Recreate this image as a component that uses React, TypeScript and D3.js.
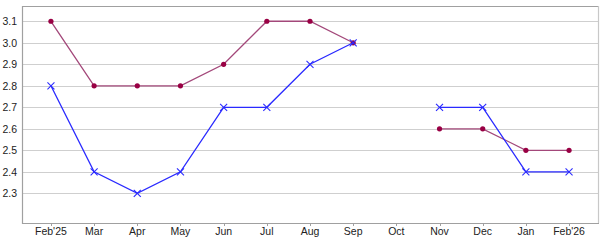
import React from "react";
import * as d3 from "d3";

const months = ["Feb'25", "Mar", "Apr", "May", "Jun", "Jul", "Aug", "Sep", "Oct", "Nov", "Dec", "Jan", "Feb'26"];
const seriesDots: (number | null)[] = [3.1, 2.8, 2.8, 2.8, 2.9, 3.1, 3.1, 3.0, null, 2.6, 2.6, 2.5, 2.5];
const seriesCross: (number | null)[] = [2.8, 2.4, 2.3, 2.4, 2.7, 2.7, 2.9, 3.0, null, 2.7, 2.7, 2.4, 2.4];
const yTicks = [2.3, 2.4, 2.5, 2.6, 2.7, 2.8, 2.9, 3.0, 3.1];

const W = 600;
const H = 243;
const left = 22;
const right = 598;
const top = 6;
const bottom = 223;

export default function App() {
  const x = d3.scalePoint<string>().domain(months).range([left, right]).padding(0.67);
  const y = d3.scaleLinear().domain([2.162, 3.171]).range([bottom, top]);

  const line = d3
    .line<number | null>()
    .defined((d) => d !== null)
    .x((_, i) => x(months[i]) as number)
    .y((d) => y(d as number));

  const font = "'Liberation Sans', Arial, sans-serif";

  return (
    <svg
      width={W}
      height={H}
      style={{ position: "absolute", left: 0, top: 0, background: "#ffffff" }}
    >
      <rect x={0} y={0} width={W} height={H} fill="#ffffff" />
      {/* grid */}
      {yTicks.map((t) => (
        <line
          key={t}
          x1={left}
          x2={right}
          y1={Math.round(y(t)) + 0.5}
          y2={Math.round(y(t)) + 0.5}
          stroke="#cfcfcf"
          strokeWidth={1.2}
        />
      ))}
      {/* frame */}
      <line x1={left} x2={right} y1={top + 0.5} y2={top + 0.5} stroke="#a0a0a0" strokeWidth={1.2} />
      <line x1={right + 0.5} x2={right + 0.5} y1={top} y2={bottom} stroke="#c8c8c8" strokeWidth={1.2} />
      <line x1={left + 0.5} x2={left + 0.5} y1={top} y2={bottom + 1} stroke="#a0a0a0" strokeWidth={1.2} />
      <line x1={left} x2={right + 1} y1={bottom + 0.5} y2={bottom + 0.5} stroke="#a0a0a0" strokeWidth={1.2} />
      {/* x ticks + labels */}
      {months.map((m) => (
        <g key={m}>
          <line
            x1={Math.round(x(m) as number) + 0.5}
            x2={Math.round(x(m) as number) + 0.5}
            y1={bottom}
            y2={bottom + 3}
            stroke="#a0a0a0"
          />
          <text
            x={x(m) as number}
            y={235}
            textAnchor="middle"
            fontFamily={font}
            fontSize={10.5}
            fill="#222"
          >
            {m}
          </text>
        </g>
      ))}
      {/* y labels */}
      {yTicks.map((t) => (
        <text
          key={t}
          x={17}
          y={y(t) + 3.8}
          textAnchor="end"
          fontFamily={font}
          fontSize={10.5}
          fill="#222"
        >
          {t.toFixed(1)}
        </text>
      ))}
      {/* maroon series */}
      <path d={line(seriesDots) || ""} fill="none" stroke="#a3487a" strokeWidth={1.3} />
      {seriesDots.map((d, i) =>
        d === null ? null : (
          <circle key={i} cx={x(months[i]) as number} cy={y(d)} r={2.6} fill="#990044" />
        )
      )}
      {/* blue series */}
      <path d={line(seriesCross) || ""} fill="none" stroke="#2a2aff" strokeWidth={1.3} />
      {seriesCross.map((d, i) => {
        if (d === null) return null;
        const cx = x(months[i]) as number;
        const cy = y(d);
        const s = 3.5;
        return (
          <g key={i} stroke="#2a2aff" strokeWidth={1.1}>
            <line x1={cx - s} y1={cy - s} x2={cx + s} y2={cy + s} />
            <line x1={cx - s} y1={cy + s} x2={cx + s} y2={cy - s} />
          </g>
        );
      })}
    </svg>
  );
}
